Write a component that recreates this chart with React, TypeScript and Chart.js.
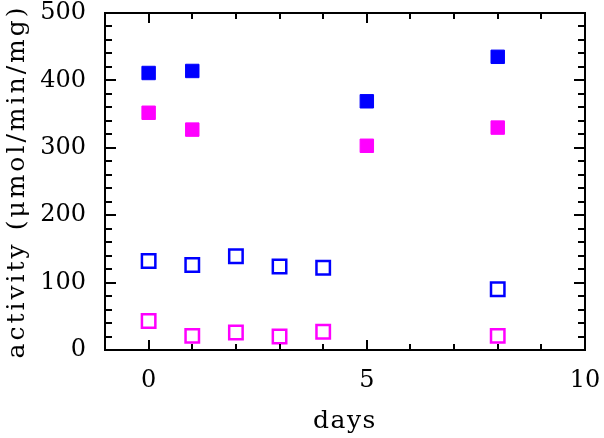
import React, { useEffect, useRef } from "react";
import { Chart, registerables } from "chart.js";

Chart.register(...registerables);

const filledDays = [0, 1, 5, 8];
const filledBlue = [411, 414, 369, 435];
const filledMagenta = [352, 327, 303, 330];
const openDays = [0, 1, 2, 3, 4, 8];
const openBlue = [132, 126, 139, 124, 122, 90];
const openMagenta = [43, 21, 26, 20, 27, 21];

const xMin = -1, xMax = 10, xStep = 1, xMajor = 5;
const yMin = 0, yMax = 500, yStep = 20, yMajor = 100;
const xTitle = "days";
const yTitle = "activity (\u03bcmol/min/mg)";

const BLUE = "#0000ff";
const MAGENTA = "#ff00ff";
const FONT = "'DejaVu Serif', serif";

const toPts = (xs: number[], ys: number[]) => xs.map((x, i) => ({ x, y: ys[i] }));

const titleSpacing: Record<string, string> = { x: "1.5px", y: "3px" };

const framePlugin = {
  id: "frameTicks",
  beforeDraw(chart: any) {
    for (const id of Object.keys(titleSpacing)) {
      const s = chart.scales[id];
      if (s && !s.__ls) {
        const orig = s.drawTitle;
        s.drawTitle = function (...args: any[]) {
          const c = this.ctx;
          c.save();
          c.letterSpacing = titleSpacing[id];
          orig.apply(this, args);
          c.restore();
        };
        s.__ls = true;
      }
    }
  },
  afterDraw(chart: any) {
    const { ctx, chartArea: a } = chart;
    const xs = chart.scales.x;
    const ys = chart.scales.y;
    ctx.save();
    ctx.strokeStyle = "#000";
    ctx.lineWidth = 2;
    ctx.strokeRect(a.left, a.top, a.right - a.left, a.bottom - a.top);
    ctx.beginPath();
    for (const t of xs.ticks) {
      const v = t.value;
      if (v <= xMin || v >= xMax) continue;
      const len = v % xMajor === 0 ? 10 : 6;
      const px = Math.round(xs.getPixelForValue(v));
      ctx.moveTo(px, a.bottom);
      ctx.lineTo(px, a.bottom - len);
      ctx.moveTo(px, a.top);
      ctx.lineTo(px, a.top + len);
    }
    for (const t of ys.ticks) {
      const v = t.value;
      if (v <= yMin || v >= yMax) continue;
      const len = v % yMajor === 0 ? 11 : 7;
      const py = Math.round(ys.getPixelForValue(v));
      ctx.moveTo(a.left, py);
      ctx.lineTo(a.left + len, py);
      ctx.moveTo(a.right, py);
      ctx.lineTo(a.right - len, py);
    }
    ctx.stroke();
    ctx.restore();
  },
};

export default function App() {
  const ref = useRef<HTMLCanvasElement>(null);
  useEffect(() => {
    if (!ref.current) return;
    const filledStyle = (c: string) => ({
      showLine: false,
      pointStyle: "rect" as const,
      pointRadius: 9.5,
      pointBackgroundColor: c,
      pointBorderColor: c,
      pointBorderWidth: 1,
      backgroundColor: c,
      borderColor: c,
    });
    const openStyle = (c: string) => ({
      showLine: false,
      pointStyle: "rect" as const,
      pointRadius: 9.5,
      pointBackgroundColor: "rgba(255,255,255,0)",
      pointBorderColor: c,
      pointBorderWidth: 2.5,
      backgroundColor: "rgba(255,255,255,0)",
      borderColor: c,
    });
    const chart = new Chart(ref.current, {
      type: "scatter",
      data: {
        datasets: [
          { label: "filled blue", data: toPts(filledDays, filledBlue), ...filledStyle(BLUE) },
          { label: "filled magenta", data: toPts(filledDays, filledMagenta), ...filledStyle(MAGENTA) },
          { label: "open blue", data: toPts(openDays, openBlue), ...openStyle(BLUE) },
          { label: "open magenta", data: toPts(openDays, openMagenta), ...openStyle(MAGENTA) },
        ],
      },
      options: {
        animation: false,
        responsive: false,
        maintainAspectRatio: false,
        devicePixelRatio: 1,
        layout: { padding: { top: 13, right: 19, left: 0, bottom: 0 } },
        plugins: { legend: { display: false }, tooltip: { enabled: false } },
        scales: {
          x: {
            type: "linear",
            min: xMin,
            max: xMax,
            grid: { display: false, drawTicks: false },
            border: { display: false },
            ticks: {
              stepSize: xStep,
              autoSkip: false,
              maxRotation: 0,
              padding: 16,
              color: "#000",
              font: { family: FONT, size: 24 },
              callback: (v: any) => (Number(v) % xMajor === 0 ? String(v) : ""),
            },
            title: {
              display: true,
              text: xTitle,
              color: "#000",
              font: { family: FONT, size: 25 },
              padding: { top: 0, bottom: 2 },
            },
            afterFit: (s: any) => {
              s.height = 88;
              s.paddingLeft = 0;
              s.paddingRight = 0;
            },
          },
          y: {
            type: "linear",
            min: yMin,
            max: yMax,
            grid: { display: false, drawTicks: false },
            border: { display: false },
            ticks: {
              stepSize: yStep,
              autoSkip: false,
              padding: 19,
              color: "#000",
              font: { family: FONT, size: 24 },
              callback: (v: any) => (Number(v) % yMajor === 0 ? String(v) : ""),
            },
            title: {
              display: true,
              text: yTitle,
              color: "#000",
              font: { family: FONT, size: 25 },
              padding: { top: 2, bottom: 0 },
            },
            afterFit: (s: any) => {
              s.width = 105;
              s.paddingTop = 0;
              s.paddingBottom = 0;
            },
          },
        },
      },
      plugins: [framePlugin],
    });
    return () => chart.destroy();
  }, []);
  return (
    <div style={{ position: "absolute", left: 0, top: 0, width: 604, height: 438, background: "#fff" }}>
      <canvas ref={ref} width={604} height={438} style={{ display: "block", width: 604, height: 438 }} />
    </div>
  );
}
